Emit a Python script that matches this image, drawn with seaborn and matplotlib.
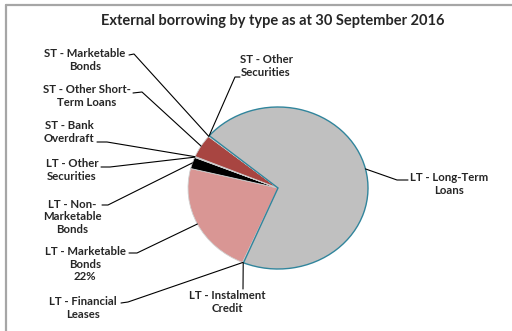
import numpy as np
import seaborn as sns
import matplotlib.pyplot as plt
from matplotlib.lines import Line2D

sns.set_theme(style="white")
plt.rcParams['font.family'] = ['Lato', 'DejaVu Sans']

# data (clockwise from the top-left)
categories = ["LT - Long-Term Loans", "LT - Instalment Credit", "LT - Financial Leases",
              "LT - Marketable Bonds", "LT - Non-Marketable Bonds", "LT - Other Securities",
              "ST - Bank Overdraft", "ST - Other Short-Term Loans", "ST - Marketable Bonds",
              "ST - Other Securities"]
shares = [70.1, 0.1, 0.1, 22.4, 2.3, 0.1, 0.1, 4.6, 0.1, 0.1]
label_text = ["LT - Long-Term\nLoans", "LT - Instalment\nCredit", "LT - Financial\nLeases",
              "LT - Marketable\nBonds", "LT - Non-\nMarketable\nBonds", "LT - Other\nSecurities",
              "ST - Bank\nOverdraft", "ST - Other Short-\nTerm Loans", "ST - Marketable\nBonds",
              "ST - Other\nSecurities"]
show_pct = [False, False, False, True, False, False, False, False, False, False]
colors = ["#C0C0C0", "#F79646", "#4F81BD", "#D99694", "#000000", "#4BACC6",
          "#8064A2", "#A84541", "#9BBB59", "#1F497D"]

# layout in pixels: label centre, line start, elbow
W, H = 512, 331
CX, CY, RX, RY = 278, 188, 90, 81
label_pos = [(449, 184), (227, 302), (83, 308), (85, 264), (72, 217), (72, 170),
             (69, 132), (87, 96), (85, 60), (266, 66)]
line_start = [(408, 180), (243, 289), (121, 303), (129, 253), (102, 205), (101, 167),
              (97, 142), (133, 93), (129, 55), (240, 77)]
line_elbow = [(397, 180), (243, 289), (128, 302), (137, 253), (108, 205), (110, 167),
              (107, 142), (142, 92), (134, 54), (235, 77)]


def px(p):
    return ((p[0] - CX) / RX, (CY - p[1]) / RY)


fig = plt.figure(figsize=(W / 100, H / 100), dpi=100)
fig.patch.set_facecolor("white")
ax = fig.add_axes([0, 0, 1, 1])

wedges, _ = ax.pie(shares, colors=colors, startangle=139.8, counterclock=False,
                   radius=1, center=(0, 0),
                   wedgeprops=dict(edgecolor="#D0D0D0", linewidth=0.6))
wedges[0].set_edgecolor("#31859C")
wedges[0].set_linewidth(1.0)
wedges[0].set_zorder(3)

ax.set_aspect("auto")
ax.set_xlim(-CX / RX, (W - CX) / RX)
ax.set_ylim(-(H - CY) / RY, CY / RY)
ax.axis("off")

total = sum(shares)
for i, w in enumerate(wedges):
    mid = np.deg2rad((w.theta1 + w.theta2) / 2)
    end = (np.cos(mid), np.sin(mid))
    s, e = px(line_start[i]), px(line_elbow[i])
    ax.plot([s[0], e[0], end[0]], [s[1], e[1], end[1]], color="black", lw=0.8, zorder=4)
    txt = label_text[i]
    if show_pct[i]:
        txt += f"\n{round(shares[i] / total * 100):.0f}%"
    ax.text(*px(label_pos[i]), txt, ha="center", va="center", multialignment="center",
            fontsize=8.2, fontweight="bold", linespacing=1.15, zorder=5)

fig.text(273 / W, 1 - 21 / H, "External borrowing by type as at 30 September 2016",
         ha="center", va="center", fontsize=10.5, fontweight="bold")

border = dict(color="#A6A6A6", lw=1.6)
fig.add_artist(Line2D([6 / W, 6 / W], [0, 1 - 5 / H], **border))
fig.add_artist(Line2D([6 / W, 1], [1 - 5 / H, 1 - 5 / H], **border))

fig.savefig("out.png", dpi=100)
